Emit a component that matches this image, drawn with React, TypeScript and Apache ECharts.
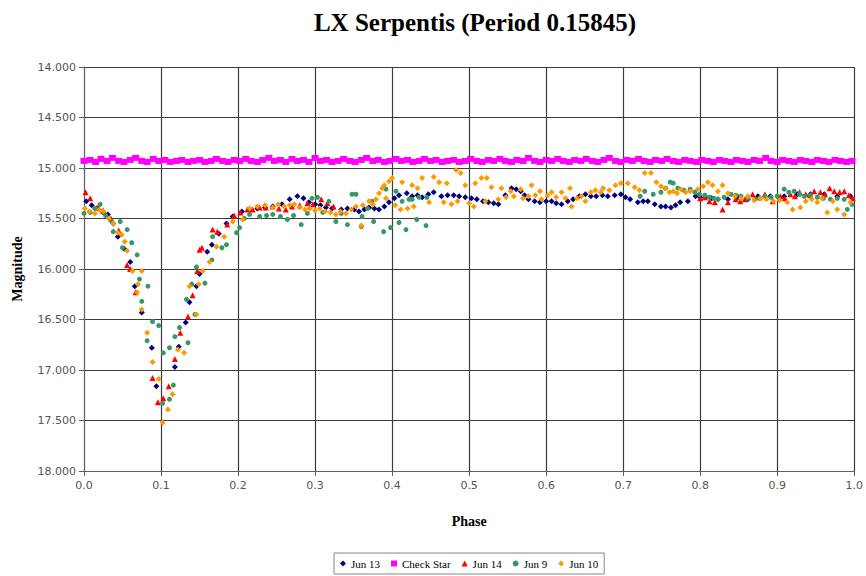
import React, { useEffect, useRef } from "react";
import * as echarts from "echarts";

const titleText = "LX Serpentis (Period 0.15845)";
const xTicks = { min: 0, max: 1, interval: 0.1 };
const yTicks = { min: 14, max: 18, interval: 0.5 };

const jun13: number[][] = [
  [0.003,15.33],[0.010,15.37],[0.018,15.40],[0.025,15.44],[0.031,15.46],[0.038,15.55],[0.044,15.68],[0.052,15.80],[0.060,15.93],[0.066,16.17],[0.075,16.43],[0.088,16.78],[0.094,17.16],[0.118,16.97],[0.123,16.77],[0.132,16.53],[0.137,16.33],[0.146,16.17],[0.150,16.05],[0.160,15.83],[0.166,15.76],[0.175,15.65],[0.185,15.55],[0.193,15.48],
  [0.205,15.43],[0.215,15.41],[0.225,15.40],[0.235,15.39],[0.245,15.38],[0.257,15.36],[0.267,15.31],[0.277,15.28],[0.285,15.30],[0.292,15.34],[0.300,15.36],[0.307,15.37],[0.314,15.39],[0.322,15.40],[0.334,15.41],[0.342,15.40],[0.351,15.41],[0.357,15.43],[0.364,15.41],[0.370,15.39],[0.377,15.40],[0.383,15.41],[0.390,15.38],[0.396,15.34],[0.403,15.30],[0.409,15.27],[0.419,15.25],[0.426,15.28],[0.433,15.27],[0.439,15.29],[0.447,15.26],[0.454,15.24],[0.464,15.28],[0.472,15.27],[0.480,15.27],[0.487,15.28],[0.495,15.29],[0.503,15.30],[0.510,15.31],[0.518,15.33],[0.525,15.34],[0.532,15.35],[0.538,15.36],[0.547,15.27],[0.555,15.20],[0.561,15.21],[0.567,15.23],[0.572,15.27],[0.577,15.31],[0.585,15.33],[0.592,15.34],[0.600,15.33],[0.607,15.33],[0.613,15.35],[0.620,15.36],[0.628,15.33],[0.635,15.31],[0.643,15.28],[0.651,15.26],[0.658,15.28],[0.665,15.28],[0.673,15.27],[0.680,15.28],[0.689,15.27],[0.697,15.26],[0.703,15.29],[0.709,15.31],[0.719,15.34],[0.726,15.33],[0.732,15.33],[0.741,15.36],[0.749,15.38],[0.755,15.38],[0.762,15.39],[0.768,15.37],[0.774,15.34],[0.784,15.33],[0.794,15.28],[0.800,15.29],[0.807,15.29],[0.815,15.30],[0.823,15.31],[0.836,15.31],[0.849,15.29],[0.862,15.31],[0.875,15.28],[0.891,15.28],[0.909,15.28],[0.926,15.26],[0.943,15.26],[0.961,15.26],[0.978,15.28],[0.995,15.28]
];

const checkStar: number[][] = [
  [0.000,14.93],[0.008,14.92],[0.015,14.94],[0.022,14.91],[0.030,14.93],[0.037,14.90],[0.045,14.93],[0.052,14.94],[0.060,14.92],[0.067,14.90],[0.075,14.93],[0.082,14.94],[0.090,14.91],[0.097,14.93],[0.105,14.92],[0.112,14.94],[0.120,14.93],[0.127,14.92],[0.135,14.94],[0.142,14.93],[0.150,14.92],[0.157,14.94],[0.165,14.93],[0.172,14.91],[0.180,14.93],[0.187,14.94],[0.195,14.92],[0.202,14.93],[0.210,14.91],[0.217,14.93],[0.225,14.94],[0.232,14.92],[0.240,14.90],[0.247,14.93],[0.255,14.92],[0.262,14.94],[0.270,14.91],[0.277,14.93],[0.285,14.92],[0.292,14.94],[0.300,14.90],[0.307,14.93],[0.315,14.92],[0.322,14.94],[0.330,14.93],[0.337,14.91],[0.345,14.93],[0.352,14.94],[0.360,14.92],[0.367,14.90],[0.375,14.93],[0.382,14.92],[0.390,14.94],[0.397,14.93],[0.405,14.91],[0.412,14.93],[0.420,14.92],[0.427,14.94],[0.435,14.93],[0.442,14.91],[0.450,14.93],[0.457,14.92],[0.465,14.94],[0.472,14.93],[0.480,14.92],[0.487,14.94],[0.495,14.93],[0.502,14.91],[0.510,14.93],[0.517,14.94],[0.525,14.92],[0.532,14.93],[0.540,14.91],[0.547,14.93],[0.555,14.94],[0.562,14.92],[0.570,14.93],[0.577,14.90],[0.585,14.93],[0.592,14.94],[0.600,14.92],[0.607,14.93],[0.615,14.91],[0.622,14.93],[0.630,14.94],[0.637,14.92],[0.645,14.93],[0.652,14.91],[0.660,14.93],[0.667,14.94],[0.675,14.92],[0.682,14.90],[0.690,14.93],[0.697,14.94],[0.705,14.92],[0.712,14.93],[0.720,14.91],[0.727,14.93],[0.735,14.94],[0.742,14.92],[0.750,14.93],[0.757,14.91],[0.765,14.93],[0.772,14.94],[0.780,14.92],[0.787,14.93],[0.795,14.94],[0.802,14.92],[0.810,14.93],[0.817,14.94],[0.825,14.92],[0.832,14.93],[0.840,14.94],[0.847,14.92],[0.855,14.93],[0.862,14.94],[0.870,14.92],[0.877,14.93],[0.885,14.90],[0.892,14.93],[0.900,14.94],[0.907,14.92],[0.915,14.93],[0.922,14.94],[0.930,14.92],[0.937,14.93],[0.945,14.94],[0.952,14.92],[0.960,14.93],[0.967,14.94],[0.975,14.92],[0.982,14.93],[0.990,14.94],[0.997,14.93]
];

const jun14: number[][] = [
  [0.002,15.24],[0.008,15.30],[0.017,15.39],[0.025,15.42],[0.035,15.50],[0.045,15.62],[0.056,15.96],[0.060,16.00],[0.067,16.23],[0.089,17.08],[0.096,17.32],[0.103,17.28],[0.110,17.16],[0.118,16.89],[0.125,16.63],[0.135,16.47],[0.141,16.26],[0.147,16.02],[0.150,15.81],[0.153,15.79],[0.167,15.61],[0.173,15.63],[0.186,15.56],[0.195,15.47],[0.203,15.44],[0.212,15.41],[0.219,15.41],[0.228,15.39],[0.236,15.39],[0.245,15.38],[0.253,15.40],[0.262,15.41],[0.270,15.38],[0.280,15.37],[0.290,15.35],[0.297,15.36],[0.308,15.31],[0.316,15.35],[0.324,15.38],
  [0.800,15.30],[0.806,15.29],[0.812,15.33],[0.819,15.34],[0.829,15.41],[0.836,15.34],[0.846,15.31],[0.852,15.33],[0.858,15.31],[0.868,15.26],[0.877,15.29],[0.884,15.26],[0.894,15.33],[0.904,15.28],[0.910,15.30],[0.917,15.26],[0.923,15.28],[0.929,15.24],[0.937,15.26],[0.943,15.27],[0.948,15.23],[0.956,15.24],[0.962,15.26],[0.968,15.20],[0.974,15.23],[0.981,15.24],[0.987,15.23],[0.993,15.27],[0.998,15.30]
];

const jun9: number[][] = [
  [0.000,15.45],[0.008,15.44],[0.014,15.40],[0.021,15.36],[0.028,15.47],[0.036,15.53],[0.038,15.63],[0.047,15.53],[0.050,15.79],[0.056,15.61],[0.062,15.74],[0.069,15.86],[0.072,16.10],[0.075,16.32],[0.082,16.71],[0.083,16.17],[0.089,16.52],[0.097,16.56],[0.102,17.33],[0.103,16.83],[0.111,16.78],[0.111,17.29],[0.116,17.15],[0.118,16.67],[0.124,16.58],[0.133,16.30],[0.135,16.73],[0.140,16.15],[0.144,16.45],[0.146,15.98],[0.157,16.14],[0.166,15.91],[0.167,15.68],[0.179,15.79],[0.185,15.76],[0.198,15.64],[0.202,15.59],[0.208,15.50],[0.215,15.46],[0.228,15.48],[0.237,15.47],[0.245,15.46],[0.255,15.48],[0.264,15.51],[0.272,15.47],[0.282,15.56],[0.290,15.45],[0.296,15.30],[0.303,15.29],[0.310,15.44],[0.318,15.33],[0.327,15.53],[0.334,15.45],[0.342,15.56],[0.348,15.26],[0.353,15.26],[0.360,15.58],[0.361,15.48],[0.368,15.40],[0.374,15.33],[0.376,15.53],[0.389,15.63],[0.392,15.21],[0.398,15.59],[0.405,15.23],[0.409,15.54],[0.413,15.33],[0.418,15.61],[0.422,15.31],[0.426,15.31],[0.432,15.51],[0.435,15.29],[0.444,15.57],[0.445,15.29],
  [0.722,15.28],[0.728,15.23],[0.739,15.26],[0.749,15.24],[0.755,15.20],[0.761,15.14],[0.765,15.15],[0.771,15.20],[0.779,15.22],[0.787,15.21],[0.793,15.24],[0.799,15.26],[0.806,15.27],[0.812,15.29],[0.818,15.30],[0.823,15.31],[0.831,15.29],[0.840,15.26],[0.846,15.27],[0.853,15.28],[0.862,15.30],[0.871,15.31],[0.877,15.30],[0.884,15.28],[0.892,15.29],[0.900,15.28],[0.909,15.21],[0.915,15.24],[0.922,15.23],[0.929,15.26],[0.935,15.28],[0.943,15.27],[0.952,15.29],[0.960,15.30],[0.969,15.31],[0.978,15.30],[0.987,15.31],[0.991,15.41],[0.997,15.36]
];

const jun10: number[][] = [
  [0.001,15.40],[0.007,15.43],[0.014,15.45],[0.020,15.41],[0.025,15.43],[0.032,15.50],[0.038,15.55],[0.044,15.64],[0.049,15.66],[0.053,15.73],[0.056,15.82],[0.063,16.02],[0.069,16.23],[0.070,16.15],[0.075,16.02],[0.075,16.40],[0.082,16.63],[0.089,16.92],[0.097,17.09],[0.102,17.52],[0.109,17.39],[0.115,17.24],[0.122,16.80],[0.130,16.83],[0.137,16.17],[0.146,16.45],[0.149,16.15],[0.154,16.02],[0.163,15.93],[0.172,15.78],[0.182,15.68],[0.193,15.53],[0.206,15.51],
  [0.215,15.40],[0.225,15.38],[0.235,15.37],[0.245,15.39],[0.252,15.36],[0.260,15.38],[0.267,15.37],[0.273,15.36],[0.280,15.39],[0.287,15.41],[0.293,15.40],[0.300,15.42],[0.306,15.40],[0.313,15.43],[0.320,15.44],[0.327,15.46],[0.333,15.43],[0.340,15.45],[0.347,15.41],[0.353,15.38],[0.360,15.57],[0.362,15.37],[0.370,15.33],[0.375,15.36],[0.379,15.31],[0.383,15.25],[0.387,15.20],[0.390,15.17],[0.392,15.30],[0.396,15.13],[0.400,15.10],[0.404,15.37],[0.411,15.41],[0.413,15.14],[0.420,15.40],[0.426,15.17],[0.428,15.38],[0.433,15.20],[0.439,15.10],[0.448,15.34],[0.454,15.09],[0.461,15.14],[0.467,15.34],[0.471,15.15],[0.477,15.36],[0.483,15.02],[0.485,15.33],[0.489,15.05],[0.495,15.17],[0.500,15.35],[0.506,15.38],[0.508,15.15],[0.516,15.10],[0.521,15.33],[0.523,15.10],[0.529,15.19],[0.538,15.31],[0.542,15.20],[0.548,15.29],[0.554,15.23],[0.558,15.28],[0.567,15.21],[0.570,15.30],[0.577,15.28],[0.581,15.17],[0.586,15.27],[0.592,15.23],[0.594,15.31],[0.602,15.27],[0.607,15.24],[0.613,15.29],[0.620,15.24],[0.625,15.30],[0.631,15.20],[0.633,15.38],[0.640,15.30],[0.646,15.28],[0.651,15.33],[0.658,15.24],[0.664,15.22],[0.671,15.24],[0.674,15.20],[0.682,15.22],[0.690,15.17],[0.697,15.15],[0.706,15.15],[0.715,15.19],[0.721,15.22],[0.728,15.05],[0.736,15.05],[0.743,15.14],[0.749,15.18],[0.754,15.20],[0.760,15.24],[0.765,15.23],[0.770,15.25],[0.775,15.21],[0.781,15.24],[0.787,15.23],[0.797,15.21],[0.804,15.18],[0.810,15.14],[0.816,15.17],[0.823,15.23],[0.829,15.17],[0.836,15.25],[0.845,15.28],[0.853,15.30],[0.862,15.28],[0.870,15.32],[0.878,15.30],[0.886,15.31],[0.895,15.33],[0.903,15.32],[0.913,15.34],[0.920,15.41],[0.930,15.39],[0.937,15.33],[0.945,15.31],[0.952,15.34],[0.958,15.30],[0.965,15.44],[0.972,15.33],[0.978,15.41],[0.987,15.46],[0.995,15.34]
];

const seriesNames = ["Jun 13", "Check Star", "Jun 14", "Jun 9", "Jun 10"];

export default function App() {
  const ref = useRef<HTMLDivElement>(null);
  useEffect(() => {
    if (!ref.current) return;
    const chart = echarts.init(ref.current, null, { renderer: "svg" });
    const serif = "'Liberation Serif', 'Times New Roman', serif";
    const sans = "'DejaVu Sans', sans-serif";
    const mk = (name: string, data: number[][], symbol: string, size: any, color: string) => ({
      name,
      type: "scatter",
      data,
      symbol,
      symbolSize: size,
      itemStyle: { color, opacity: 1 },
      emphasis: { disabled: true },
    });
    chart.setOption({
      animation: false,
      backgroundColor: "#ffffff",
      title: {
        text: titleText,
        left: 470,
        top: 5,
        textAlign: "center",
        textStyle: { fontFamily: serif, fontWeight: "bold", fontSize: 25, color: "#000" },
      },
      grid: { left: 84, right: 9, top: 67, bottom: 105 },
      legend: {
        data: seriesNames,
        bottom: 2,
        left: 334,
        orient: "horizontal",
        borderColor: "#888",
        borderWidth: 1,
        padding: [5, 6],
        itemWidth: 6,
        itemHeight: 6,
        itemGap: 11,
        textStyle: { fontFamily: serif, fontSize: 11, color: "#000" },
      },
      xAxis: {
        type: "value",
        min: xTicks.min,
        max: xTicks.max,
        interval: xTicks.interval,
        name: "Phase",
        nameLocation: "middle",
        nameGap: 43,
        nameTextStyle: { fontFamily: serif, fontWeight: "bold", fontSize: 14, color: "#000" },
        axisLine: { lineStyle: { color: "#606060", width: 1 } },
        axisTick: { show: true, length: 5, lineStyle: { color: "#606060" } },
        axisLabel: { fontFamily: sans, fontSize: 11, color: "#555", margin: 9, formatter: (v: number) => v.toFixed(1) },
        splitLine: { show: true, lineStyle: { color: "#3c3c3c", width: 1.2 } },
      },
      yAxis: {
        type: "value",
        inverse: true,
        min: yTicks.min,
        max: yTicks.max,
        interval: yTicks.interval,
        name: "Magnitude",
        nameLocation: "middle",
        nameGap: 60,
        nameTextStyle: { fontFamily: serif, fontWeight: "bold", fontSize: 14, color: "#000" },
        axisLine: { show: true, lineStyle: { color: "#606060", width: 1 } },
        axisTick: { show: true, length: 5, lineStyle: { color: "#606060" } },
        axisLabel: { fontFamily: sans, fontSize: 11, color: "#555", margin: 8, formatter: (v: number) => v.toFixed(3) },
        splitLine: { show: true, lineStyle: { color: "#3c3c3c", width: 1.2 } },
      },
      series: [
        mk("Jun 13", jun13, "diamond", 6, "#000080"),
        mk("Check Star", checkStar, "rect", [7, 6], "#FF00FF"),
        mk("Jun 14", jun14, "triangle", 6, "#FF0000"),
        mk("Jun 9", jun9, "circle", 5, "#339966"),
        mk("Jun 10", jun10, "diamond", 6, "#FF9900"),
      ],
    });
    return () => chart.dispose();
  }, []);
  return <div ref={ref} style={{ position: "fixed", left: 0, top: 0, width: 866, height: 576 }} />;
}
